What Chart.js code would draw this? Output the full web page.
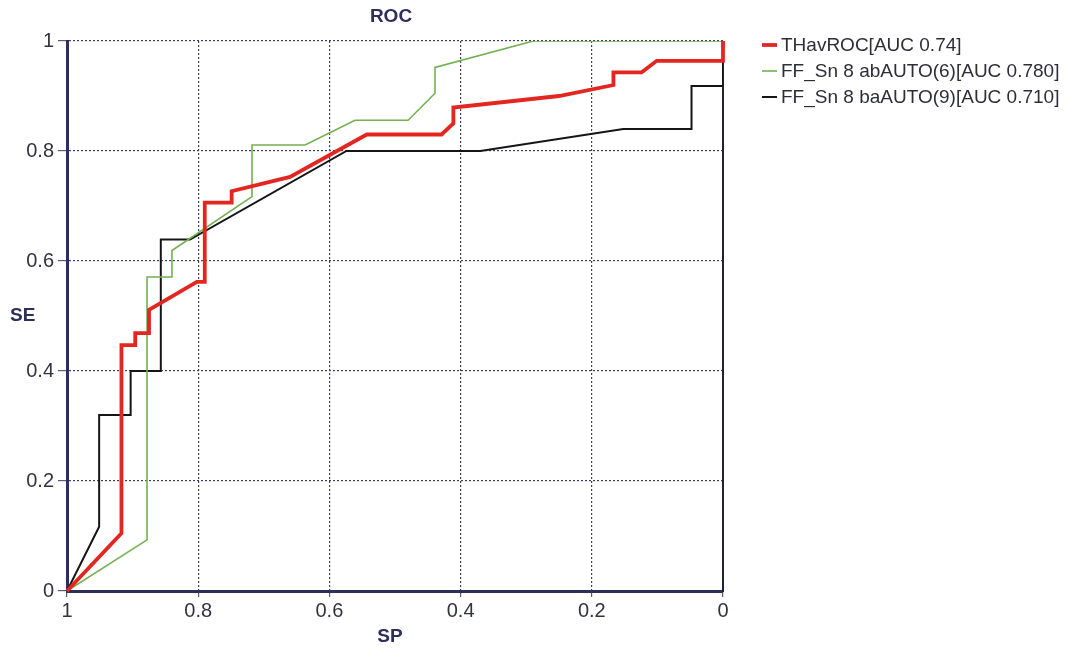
<!DOCTYPE html>
<html>
<head>
<meta charset="utf-8">
<script src="https://cdn.jsdelivr.net/npm/chart.js@4.4.1/dist/chart.umd.min.js"></script>
<style>
  html, body { margin: 0; padding: 0; background: #ffffff; }
  #wrap { width: 1089px; height: 655px; position: relative; }
</style>
</head>
<body>
<div id="wrap"><canvas id="c"></canvas></div>
<script>
// ---- data ----
const chartTitle = 'ROC';
const xTitle = 'SP';
const yTitle = 'SE';
const tickValues = [0, 0.2, 0.4, 0.6, 0.8, 1];
const tickLabels = ['0', '0.2', '0.4', '0.6', '0.8', '1'];

const seriesNames = ['THavROC[AUC 0.74]', 'FF_Sn 8 abAUTO(6)[AUC 0.780]', 'FF_Sn 8 baAUTO(9)[AUC 0.710]'];

const redSP = [1, 0.917, 0.917, 0.896, 0.896, 0.875, 0.875, 0.802, 0.790, 0.790, 0.749, 0.749, 0.660, 0.543, 0.429, 0.411, 0.411, 0.25, 0.167, 0.167, 0.124, 0.101, 0, 0];
const redSE = [0, 0.105, 0.447, 0.447, 0.469, 0.469, 0.511, 0.562, 0.562, 0.706, 0.706, 0.727, 0.753, 0.830, 0.830, 0.850, 0.879, 0.900, 0.920, 0.943, 0.943, 0.964, 0.964, 1.0];

const greenSP = [1, 0.878, 0.878, 0.840, 0.840, 0.718, 0.718, 0.637, 0.561, 0.480, 0.439, 0.439, 0.289, 0];
const greenSE = [0, 0.093, 0.571, 0.571, 0.619, 0.717, 0.811, 0.811, 0.856, 0.856, 0.905, 0.952, 1.0, 1.0];

const blackSP = [1, 0.951, 0.951, 0.903, 0.903, 0.857, 0.857, 0.8125, 0.574, 0.370, 0.152, 0.048, 0.048, 0, 0];
const blackSE = [0, 0.117, 0.320, 0.320, 0.400, 0.400, 0.639, 0.639, 0.800, 0.800, 0.840, 0.840, 0.918, 0.918, 1.0];

const zip = (xs, ys) => xs.map((x, i) => ({ x: x, y: ys[i] }));

const navy = '#2e2e5a';
const tickColor = '#33333f';

const extras = {
  id: 'extras',
  beforeDatasetsDraw(chart) {
    const ctx = chart.ctx;
    const a = chart.chartArea;
    ctx.save();
    // right frame line
    ctx.strokeStyle = '#222230';
    ctx.lineWidth = 2;
    ctx.beginPath();
    ctx.moveTo(a.right, a.top);
    ctx.lineTo(a.right, a.bottom + 1);
    ctx.stroke();
    ctx.restore();
  },
  afterDraw(chart) {
    const ctx = chart.ctx;
    const a = chart.chartArea;
    ctx.save();
    // titles
    ctx.fillStyle = navy;
    ctx.font = 'bold 19px "Liberation Sans", Arial, sans-serif';
    ctx.textAlign = 'center';
    ctx.textBaseline = 'middle';
    ctx.fillText(chartTitle, (a.left + a.right) / 2 - 4, 17);
    ctx.fillText(xTitle, (a.left + a.right) / 2 - 5, 637);
    ctx.textAlign = 'left';
    ctx.fillText(yTitle, 10, 316);
    // legend
    ctx.font = '19px "Liberation Sans", Arial, sans-serif';
    chart.data.datasets.forEach((ds, i) => {
      const y = 45 + i * 26;
      ctx.strokeStyle = ds.borderColor;
      ctx.lineWidth = Math.max(ds.borderWidth, 1.5);
      ctx.beginPath();
      ctx.moveTo(762, y);
      ctx.lineTo(777, y);
      ctx.stroke();
      ctx.fillStyle = '#2e2e38';
      ctx.fillText(ds.label, 781, y + 1);
    });
    ctx.restore();
  }
};

new Chart(document.getElementById('c'), {
  type: 'scatter',
  data: {
    datasets: [
      { label: seriesNames[0], data: zip(redSP, redSE), showLine: true, borderColor: '#e3261f', backgroundColor: '#e3261f', borderWidth: 3.8, pointRadius: 0, tension: 0, borderJoinStyle: 'miter', clip: 3, order: 1 },
      { label: seriesNames[1], data: zip(greenSP, greenSE), showLine: true, borderColor: '#74b052', backgroundColor: '#74b052', borderWidth: 1.6, pointRadius: 0, tension: 0, order: 2 },
      { label: seriesNames[2], data: zip(blackSP, blackSE), showLine: true, borderColor: '#151515', backgroundColor: '#151515', borderWidth: 2, pointRadius: 0, tension: 0, order: 3 }
    ]
  },
  options: {
    responsive: true,
    maintainAspectRatio: false,
    animation: false,
    layout: { padding: { top: 41, right: 366, bottom: 0, left: 0 } },
    plugins: { legend: { display: false }, title: { display: false }, tooltip: { enabled: false } },
    scales: {
      x: {
        type: 'linear', min: 0, max: 1, reverse: true,
        afterFit: (s) => { s.height = 64; },
        afterBuildTicks: (s) => { s.ticks = tickValues.map(v => ({ value: v })); },
        ticks: {
          color: tickColor, padding: 2,
          font: { family: '"Liberation Sans", Arial, sans-serif', size: 20 },
          callback: (v) => tickLabels[tickValues.indexOf(v)] ?? ''
        },
        grid: { color: '#3e3e66', lineWidth: 1.2, tickLength: 6, tickColor: '#5a5a80' },
        border: { display: true, color: navy, width: 3, dash: [2, 2] }
      },
      y: {
        type: 'linear', min: 0, max: 1,
        afterFit: (s) => { s.width = 67; },
        afterBuildTicks: (s) => { s.ticks = tickValues.map(v => ({ value: v })); },
        ticks: {
          color: tickColor, padding: 4,
          font: { family: '"Liberation Sans", Arial, sans-serif', size: 20 },
          callback: (v) => tickLabels[tickValues.indexOf(v)] ?? ''
        },
        grid: { color: '#3e3e66', lineWidth: 1.2, tickLength: 9, tickColor: '#5a5a80' },
        border: { display: true, color: navy, width: 3, dash: [2, 2] }
      }
    }
  },
  plugins: [extras]
});
</script>
</body>
</html>
